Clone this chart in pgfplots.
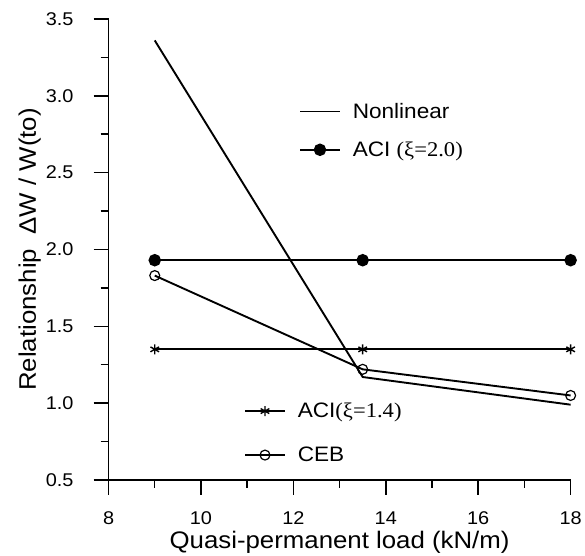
\documentclass[border=0pt]{standalone}
\usepackage{fontspec}
\setmainfont[FakeStretch=1.08]{Liberation Sans}
\newfontfamily\serif[FakeStretch=1.08]{Liberation Serif}
\usepackage{pgfplots}
\pgfplotsset{compat=1.18}

\pgfplotsset{
  base/.style={
    scale only axis, width=464pt, height=463pt,
    xmin=8, xmax=18, ymin=0.5, ymax=3.5,
    clip=false,
    legend cell align=left,
    legend style={draw=none, fill=none, font=\fontsize{21}{24}\selectfont,
      inner sep=0pt},
    legend image code/.code={
      \draw[mark repeat=2, mark phase=2]
        plot coordinates {(0pt,0pt) (20pt,0pt) (40pt,0pt)};
      \path (50pt,0pt);},
  },
  ln/.style={black, line width=1.9pt},
}

\begin{document}
\begin{tikzpicture}
\begin{axis}[base, name=ax,
  axis lines=left, axis line style={-, black, line width=1.5pt},
  tick align=outside, tick style={black, line width=1.5pt},
  major tick length=15pt, minor tick length=8pt,
  xtick={8,10,...,18}, minor x tick num=1,
  ytick={0.5,1.0,...,3.5}, minor y tick num=1,
  xticklabel={\pgfmathprintnumber[assume math mode=true]{\tick}},
  yticklabel={\pgfmathprintnumber[assume math mode=true, fixed, fixed zerofill, precision=1]{\tick}},
  tick label style={font=\fontsize{18.5}{21}\selectfont},
  xticklabel style={inner ysep=17pt},
  yticklabel style={inner xsep=20pt},
  xlabel={Quasi-permanent load (kN/m)},
  ylabel={Relationship\ \ ΔW / W(to)},
  label style={font=\fontsize{24}{28}\selectfont},
  xlabel style={at={(axis description cs:0.5,-0.11)}, anchor=north, inner sep=0pt},
  ylabel style={at={(axis description cs:-0.146,0.5)}, anchor=south, inner sep=0pt},
  legend style={at={(axis cs:12.12,2.966)}, anchor=north west, row sep=18pt},
]
\addplot[ln] coordinates {(9,3.36) (13.5,1.17) (18,0.99)};
\addlegendentry{Nonlinear}
\addplot[ln, mark=*, mark size=5.3pt, mark options={solid}] coordinates {(9,1.93) (13.5,1.93) (18,1.93)};
\addlegendentry{ACI {\serif(ξ=2.0)}}
\end{axis}
\begin{axis}[base, hide axis,
  legend style={at={(axis cs:10.93,1.015)}, anchor=north west, row sep=24pt},
]
\addplot[ln, mark=asterisk, mark size=5pt, mark options={line width=1.4pt}] coordinates {(9,1.35) (13.5,1.35) (18,1.35)};
\addlegendentry{ACI{\serif(ξ=1.4)}}
\addplot[ln, mark=o, mark size=5pt, mark options={fill=white, line width=1.2pt}] coordinates {(9,1.83) (13.5,1.22) (18,1.05)};
\addlegendentry{CEB}
\end{axis}
\path ([shift={(-109pt,-76pt)}]ax.south west) rectangle ([shift={(12pt,19pt)}]ax.north east);
\end{tikzpicture}
\end{document}
